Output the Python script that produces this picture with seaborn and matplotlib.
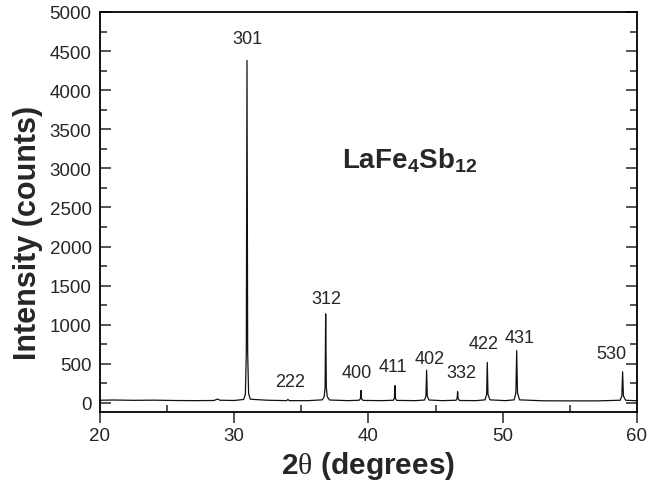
import matplotlib
matplotlib.use("Agg")
import matplotlib.pyplot as plt
import seaborn as sns
import pandas as pd
from matplotlib.ticker import MultipleLocator

sns.set_style("ticks")
plt.rcParams['font.family'] = ['Liberation Sans', 'DejaVu Sans']
plt.rcParams['mathtext.fontset'] = 'custom'
plt.rcParams['mathtext.rm'] = 'Liberation Serif'
plt.rcParams['mathtext.bf'] = 'Liberation Sans:bold'

# diffraction trace (2theta in degrees, intensity in counts)
two_theta = [20.0, 21.0, 22.5, 24.0, 25.5, 27.0, 28.5, 28.75, 28.95, 30.0,
             30.70, 30.83, 30.90, 30.95, 31.00, 31.07, 31.20, 32.5,
             33.9, 34.0, 34.1, 35.5,
             36.55, 36.70, 36.77, 36.81, 36.86, 36.93, 37.10, 38.5,
             39.30, 39.40, 39.44, 39.48, 39.60, 41.0,
             41.85, 41.93, 41.97, 42.01, 42.10, 43.5,
             44.18, 44.28, 44.33, 44.38, 44.50, 45.5,
             46.52, 46.60, 46.64, 46.68, 46.78, 48.0,
             48.68, 48.80, 48.85, 48.90, 49.05, 50.2,
             50.85, 50.98, 51.04, 51.10, 51.25, 53.0, 55.0, 57.0,
             58.75, 58.87, 58.93, 58.99, 59.15, 59.8, 60.0]
counts = [35, 38, 34, 36, 32, 30, 32, 50, 35, 32,
          45, 110, 650, 4380, 650, 120, 48, 35,
          30, 45, 30, 30,
          40, 80, 200, 1140, 200, 80, 38, 30,
          35, 55, 160, 55, 33, 30,
          35, 60, 222, 60, 33, 30,
          38, 90, 420, 90, 38, 30,
          35, 55, 145, 55, 32, 30,
          40, 110, 520, 110, 40, 30,
          40, 130, 670, 130, 40, 28, 27, 27,
          35, 90, 400, 90, 35, 30, 30]

# peak indices and where their labels sit
hkl = ["301", "312", "222", "400", "411", "402", "332", "422", "431", "530"]
label_x = [30.95, 36.84, 34.15, 39.12, 41.80, 44.59, 46.89, 48.60, 51.23, 58.12]
label_y = [4660, 1342, 272, 384, 464, 575, 384, 763, 840, 634]

df = pd.DataFrame({"two_theta": two_theta, "counts": counts})

fig, ax = plt.subplots(figsize=(6.48, 4.85), dpi=100)
fig.subplots_adjust(left=0.1543, right=0.983, top=0.9732, bottom=0.1485)

sns.lineplot(data=df, x="two_theta", y="counts", ax=ax, color="#111111",
             linewidth=0.9, estimator=None, sort=False)

for name, lx, ly in zip(hkl, label_x, label_y):
    ax.text(lx, ly, name, ha="center", va="center", fontsize=13)

ax.text(38.0, 3014, r"$\mathbf{LaFe_4Sb_{12}}$", ha="left", va="baseline",
        fontsize=20)

ax.set_xlim(20, 60)
ax.set_ylim(-115, 5000)
ax.xaxis.set_major_locator(MultipleLocator(10))
ax.xaxis.set_minor_locator(MultipleLocator(5))
ax.yaxis.set_major_locator(MultipleLocator(500))
ax.yaxis.set_minor_locator(MultipleLocator(250))
ax.tick_params(axis="x", which="major", direction="out", length=8, width=1.1,
               labelsize=13.5, pad=3)
ax.tick_params(axis="x", which="minor", direction="in", length=5, width=1.1)
ax.tick_params(axis="y", which="major", direction="in", length=8, width=1.1,
               labelsize=13.5, right=True, pad=6)
ax.tick_params(axis="y", which="minor", direction="in", length=5, width=1.1,
               right=True)
for side in ax.spines.values():
    side.set_linewidth(1.3)
    side.set_color("black")

ax.set_xlabel(r"2$\mathrm{\theta}$ (degrees)", fontsize=21.5, fontweight="bold")
ax.set_ylabel("Intensity (counts)", fontsize=22, fontweight="bold")
ax.xaxis.set_label_coords(0.5, -0.092)
ax.yaxis.set_label_coords(-0.106, 0.45)

fig.savefig("out.png", dpi=100)
